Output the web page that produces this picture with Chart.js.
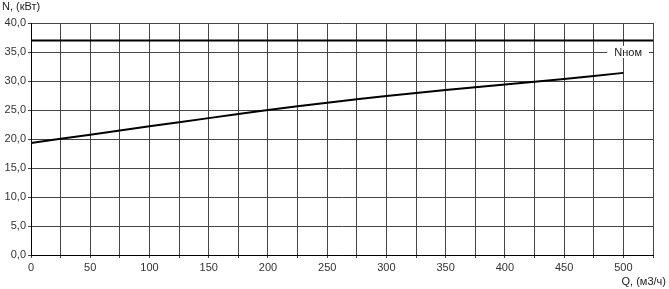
<!DOCTYPE html>
<html>
<head>
<meta charset="utf-8">
<script src="https://cdn.jsdelivr.net/npm/chart.js@4/dist/chart.umd.min.js"></script>
<style>
  html, body { margin: 0; padding: 0; background: #fff; }
  #wrap { width: 669px; height: 289px; }
</style>
</head>
<body>
<div id="wrap"><canvas id="chart" width="669" height="289"></canvas></div>
<script>
// Q, м3/ч
const flows = [0, 50, 100, 150, 200, 250, 300, 350, 400, 450, 500];
// N, кВт
const power = [19.3, 20.75, 22.2, 23.6, 25.0, 26.25, 27.4, 28.45, 29.4, 30.35, 31.4];
// номинальная мощность
const nomFlows = [0, 525];
const nomPower = [37, 37];
const nomLabel = 'Nном';

const fontFamily = '"Liberation Sans", Arial, sans-serif';

const textPlugin = {
    id: 'texts',
    afterDraw(chart) {
        const ctx = chart.ctx;
        const x = chart.scales.x, y = chart.scales.y;
        ctx.save();
        ctx.font = '11px ' + fontFamily;
        ctx.fillStyle = '#222';
        ctx.textBaseline = 'middle';
        ctx.textAlign = 'left';
        ctx.fillText('N, (кВт)', 2, 7);
        ctx.textAlign = 'right';
        ctx.fillText('Q, (м3/ч)', 666, 282);
        // подпись номинальной линии
        const lx = x.getPixelForValue(504);
        const ly = y.getPixelForValue(35);
        ctx.textAlign = 'center';
        const w = ctx.measureText(nomLabel).width;
        ctx.fillStyle = '#fff';
        ctx.fillRect(lx - w / 2 - 7, ly - 6, w + 14, 12);
        ctx.fillStyle = '#222';
        ctx.fillText(nomLabel, lx, ly + 1);
        ctx.restore();
    }
};

new Chart(document.getElementById('chart'), {
    type: 'line',
    data: {
        datasets: [{
            data: nomFlows.map((q, i) => ({ x: q, y: nomPower[i] })),
            borderColor: '#000',
            borderWidth: 2,
            pointRadius: 0,
        }, {
            data: flows.map((q, i) => ({ x: q, y: power[i] })),
            borderColor: '#000',
            borderWidth: 2,
            pointRadius: 0,
            tension: 0.3,
        }]
    },
    options: {
        responsive: false,
        animation: false,
        layout: { padding: { top: 23, right: 16, bottom: 0, left: 0 } },
        plugins: { legend: { display: false }, tooltip: { enabled: false } },
        scales: {
            x: {
                type: 'linear',
                min: 0,
                max: 525,
                afterFit(s) { s.height = 34; },
                ticks: {
                    stepSize: 25,
                    autoSkip: false,
                    maxRotation: 0,
                    padding: 3,
                    color: '#333',
                    font: { family: fontFamily, size: 11 },
                    callback: v => (v % 50 === 0 && v <= 500) ? String(v) : ''
                },
                grid: { color: '#444', lineWidth: 1, tickLength: 3 },
                border: { color: '#000', width: 1 }
            },
            y: {
                min: 0,
                max: 40,
                afterFit(s) { s.width = 31; },
                ticks: {
                    stepSize: 5,
                    padding: 2,
                    color: '#333',
                    font: { family: fontFamily, size: 11 },
                    callback: v => v.toFixed(1).replace('.', ',')
                },
                grid: { color: '#444', lineWidth: 1, tickLength: 3 },
                border: { color: '#000', width: 1 }
            }
        }
    },
    plugins: [textPlugin]
});
</script>
</body>
</html>
